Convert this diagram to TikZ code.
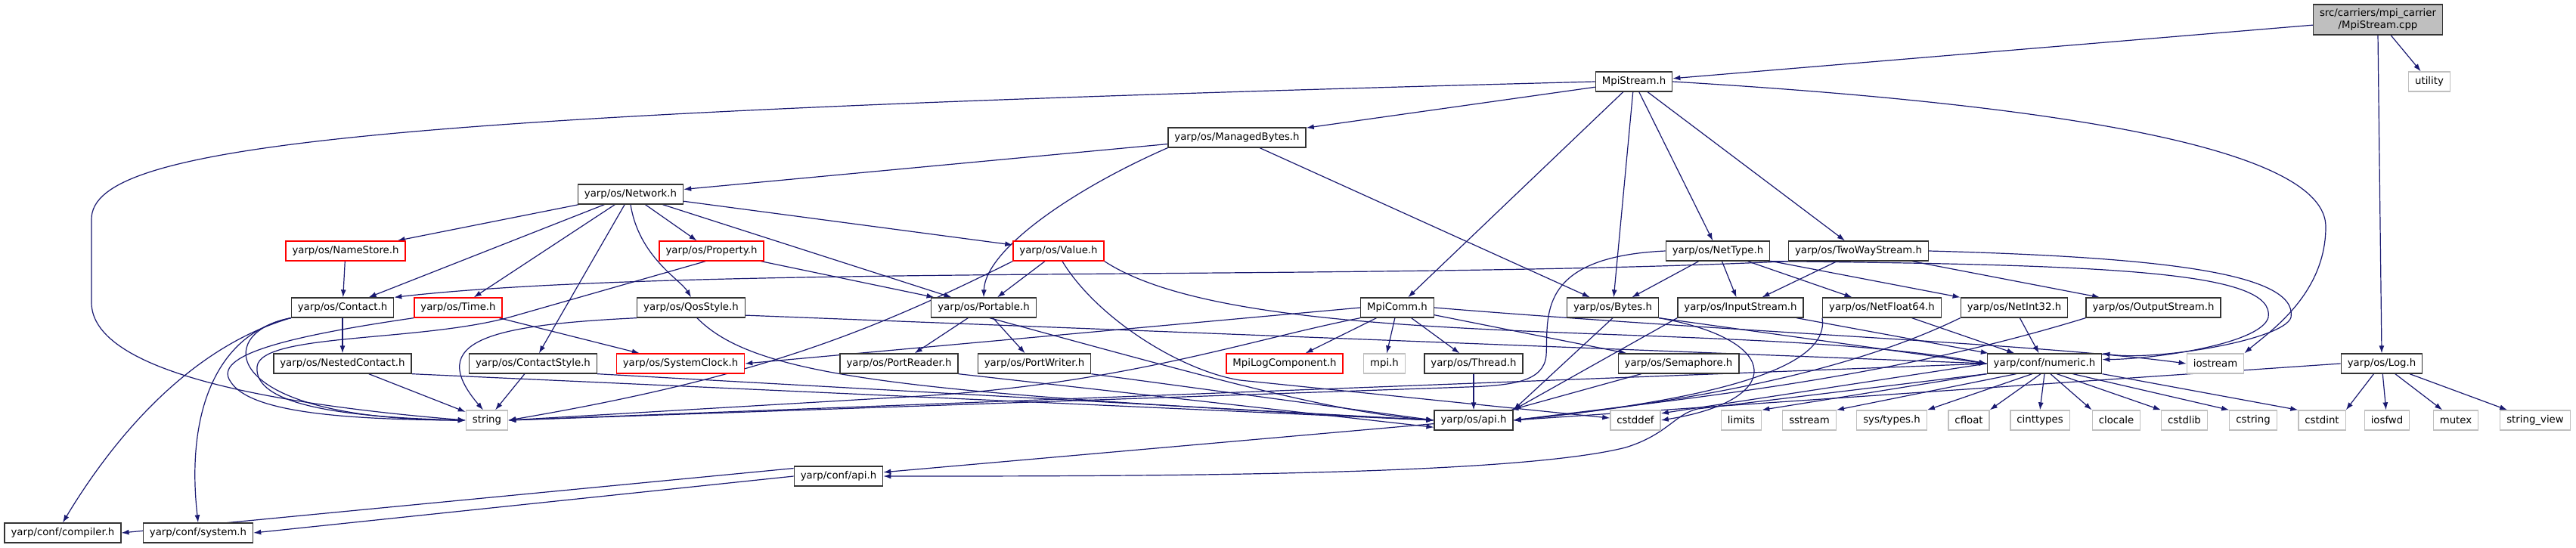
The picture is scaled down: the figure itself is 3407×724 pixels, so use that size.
\documentclass[tikz,border=0pt]{standalone}
\usepackage{fontspec}
\setmainfont{DejaVu Sans}
\usetikzlibrary{arrows.meta,backgrounds}

\definecolor{edgeblue}{RGB}{25,25,112}
\definecolor{boxgray}{RGB}{191,191,191}

\tikzset{
  hdr/.style={draw=black!80, fill=white, line width=1.3pt, minimum height=26pt,
    inner xsep=8.5pt, inner ysep=0pt, font=\fontsize{13.3pt}{16pt}\selectfont},
  redhdr/.style={hdr, draw=red},
  syshdr/.style={hdr, draw=boxgray},
  roothdr/.style={hdr, fill=boxgray, align=center, minimum height=40pt},
  dep/.style={->, edgeblue, line width=1.2pt},
}

\begin{document}
\begin{tikzpicture}[x=1pt, y=-1pt, >={Latex[length=10pt,width=7pt]}]

    \useasboundingbox (0,0) rectangle (3407,724);

    % 1. Files of the graph, row by row
    \node[roothdr] (cpp) at (3145,26) {src/carriers/mpi\_carrier\\/MpiStream.cpp};

    \node[hdr] (mpistream) at (2161,108) {MpiStream.h};
    \node[syshdr] (utility) at (3213,108) {utility};

    \node[hdr] (managedbytes) at (1636,182) {yarp/os/ManagedBytes.h};

    \node[hdr] (network) at (834,257) {yarp/os/Network.h};

    \node[redhdr] (namestore) at (457,332) {yarp/os/NameStore.h};
    \node[redhdr] (property) at (941,332) {yarp/os/Property.h};
    \node[redhdr] (value) at (1400,332) {yarp/os/Value.h};
    \node[hdr] (nettype) at (2272,332) {yarp/os/NetType.h};
    \node[hdr] (twoway) at (2458,332) {yarp/os/TwoWayStream.h};

    \node[hdr] (contact) at (453,407) {yarp/os/Contact.h};
    \node[redhdr] (time) at (606,407) {yarp/os/Time.h};
    \node[hdr] (qosstyle) at (914,407) {yarp/os/QosStyle.h};
    \node[hdr] (portable) at (1301,407) {yarp/os/Portable.h};
    \node[hdr] (mpicomm) at (1848,407) {MpiComm.h};
    \node[hdr] (bytes) at (2133,407) {yarp/os/Bytes.h};
    \node[hdr] (inputstream) at (2302,407) {yarp/os/InputStream.h};
    \node[hdr] (netfloat) at (2489,407) {yarp/os/NetFloat64.h};
    \node[hdr] (netint) at (2664,407) {yarp/os/NetInt32.h};
    \node[hdr] (outputstream) at (2848,407) {yarp/os/OutputStream.h};

    \node[hdr] (nested) at (453,481) {yarp/os/NestedContact.h};
    \node[hdr] (contactstyle) at (705,481) {yarp/os/ContactStyle.h};
    \node[redhdr] (systemclock) at (900,481) {yarp/os/SystemClock.h};
    \node[hdr] (portreader) at (1189,481) {yarp/os/PortReader.h};
    \node[hdr] (portwriter) at (1368,481) {yarp/os/PortWriter.h};
    \node[redhdr] (mpilog) at (1699,481) {MpiLogComponent.h};
    \node[syshdr] (mpih) at (1831,481) {mpi.h};
    \node[hdr] (thread) at (1949,481) {yarp/os/Thread.h};
    \node[hdr] (semaphore) at (2220,481) {yarp/os/Semaphore.h};
    \node[hdr] (numeric) at (2704,481) {yarp/conf/numeric.h};
    \node[syshdr] (iostream) at (2930,481) {iostream};
    \node[hdr] (log) at (3150,481) {yarp/os/Log.h};

    \node[syshdr] (string) at (644,556) {string};
    \node[hdr] (osapi) at (1949,556) {yarp/os/api.h};
    \node[syshdr] (cstddef) at (2163,556) {cstddef};
    \node[syshdr] (limits) at (2303,556) {limits};
    \node[syshdr] (sstream) at (2393,556) {sstream};
    \node[syshdr] (systypes) at (2502,556) {sys/types.h};
    \node[syshdr] (cfloat) at (2604,556) {cfloat};
    \node[syshdr] (cinttypes) at (2698,556) {cinttypes};
    \node[syshdr] (clocale) at (2799,556) {clocale};
    \node[syshdr] (cstdlib) at (2889,556) {cstdlib};
    \node[syshdr] (cstring) at (2980,556) {cstring};
    \node[syshdr] (cstdint) at (3071,556) {cstdint};
    \node[syshdr] (iosfwd) at (3157,556) {iosfwd};
    \node[syshdr] (mutex) at (3248,556) {mutex};
    \node[syshdr] (stringview) at (3353,556) {string\_view};

    \node[hdr] (confapi) at (1109,630) {yarp/conf/api.h};

    \node[hdr] (compiler) at (83,705) {yarp/conf/compiler.h};
    \node[hdr] (system) at (262,705) {yarp/conf/system.h};

    \begin{scope}[on background layer]
    % 2. MpiStream.cpp
    \draw[dep] (cpp) -- (mpistream);
    \draw[dep] (cpp) -- (utility);
    \draw[dep] (cpp.south) -- (log.north);

    % 3. MpiStream.h
    \draw[dep] (mpistream.west) .. controls (500,150) and (121,190) .. (121,290)
        -- (121,400) .. controls (121,480) and (300,530) .. (string.west);
    \draw[dep] (mpistream) -- (managedbytes);
    \draw[dep] (mpistream) -- (mpicomm);
    \draw[dep] (mpistream) -- (bytes);
    \draw[dep] (mpistream) -- (nettype);
    \draw[dep] (mpistream) -- (twoway);
    \draw[dep] (mpistream.east) .. controls (2750,140) and (3076,200) .. (3076,300)
        .. controls (3076,390) and (3000,440) .. (iostream.north east);

    % 4. ManagedBytes.h
    \draw[dep] (managedbytes) -- (network);
    \draw[dep] (managedbytes.south west) .. controls (1420,250) and (1303,330) .. (portable.north);
    \draw[dep] (managedbytes) -- (bytes);

    % 5. Network.h
    \draw[dep] (network) -- (namestore);
    \draw[dep] (network) -- (contact);
    \draw[dep] (network) -- (time);
    \draw[dep] (network) -- (contactstyle);
    \draw[dep] (network.south) .. controls (845,340) and (900,370) .. (qosstyle.north);
    \draw[dep] (network) -- (property);
    \draw[dep] (network) -- (portable);
    \draw[dep] (network) -- (value);

    % 6. NameStore.h, Property.h, Value.h
    \draw[dep] (namestore) -- (contact);
    \draw[dep] (property) -- (portable);
    \draw[dep] (property.-120) -- (680,418) .. controls (560,453) and (345,440) .. (340,485)
        .. controls (335,535) and (450,552) .. (string.west);
    \draw[dep] (value) -- (portable);
    \draw[dep] (value.south west) .. controls (1150,440) and (1000,500) .. (string.east);
    \draw[dep] (value.-70) .. controls (1450,420) and (1560,490) .. (1640,503) -- (cstddef.175);
    \draw[dep] (value.south east) .. controls (1650,470) and (2300,420) .. (numeric.west);

    % 7. Contact.h, Time.h, QosStyle.h
    \draw[dep] (contact) -- (nested);
    \draw[dep] (contact.south west) .. controls (280,440) and (290,555) .. (string.west);
    \draw[dep] (contact.south west) .. controls (250,460) and (150,580) .. (compiler.north);
    \draw[dep] (contact.south west) .. controls (290,440) and (245,540) .. (system.north);
    \draw[dep] (time) -- (systemclock);
    \draw[dep] (time.south west) .. controls (380,445) and (280,470) .. (305,505)
        .. controls (330,545) and (450,555) .. (string.west);
    \draw[dep] (qosstyle.south west) .. controls (650,430) and (560,450) .. (string.110);
    \draw[dep] (qosstyle.-60) .. controls (1000,500) and (1200,520) .. (osapi.west);
    \draw[dep] (qosstyle.-8) -- (numeric.west);

    % 8. NestedContact.h, ContactStyle.h
    \draw[dep] (nested) -- (string);
    \draw[dep] (nested.south east) -- (osapi.west);
    \draw[dep] (contactstyle) -- (string);
    \draw[dep] (contactstyle.south east) -- (osapi.west);

    % 9. Portable.h and its readers/writers
    \draw[dep] (portable) -- (portreader);
    \draw[dep] (portable) -- (portwriter);
    \draw[dep] (portable.-60) .. controls (1600,500) and (1760,545) .. (osapi.west);
    \draw[dep] (portreader.south east) -- (osapi.-170);
    \draw[dep] (portwriter.south east) -- (osapi.west);

    % 10. MpiComm.h
    \draw[dep] (mpicomm) -- (mpilog);
    \draw[dep] (mpicomm) -- (mpih);
    \draw[dep] (mpicomm) -- (thread);
    \draw[dep] (mpicomm) -- (semaphore);
    \draw[dep] (mpicomm.west) -- (systemclock.east);
    \draw[dep] (mpicomm.south west) .. controls (1650,450) and (1480,510) .. (1200,525) -- (string.east);
    \draw[dep] (mpicomm.east) .. controls (2300,440) and (2700,455) .. (iostream.west);

    % 11. Bytes.h, NetType.h, TwoWayStream.h
    \draw[dep] (bytes.south) -- (osapi.north east);
    \draw[dep] (bytes.south east) .. controls (2360,450) and (2360,530) .. (cstddef.east);
    \draw[dep] (bytes.south east) -- (numeric.west);
    \draw[dep] (nettype) -- (bytes);
    \draw[dep] (nettype) -- (inputstream);
    \draw[dep] (nettype) -- (netfloat);
    \draw[dep] (nettype) -- (netint);
    \draw[dep] (nettype.west) .. controls (2030,340) and (2048,420) .. (2045,470)
        .. controls (2042,505) and (2000,510) .. (1940,512) -- (string.east);
    \draw[dep] (nettype.south east) .. controls (2800,350) and (3010,360) .. (3000,420)
        .. controls (2990,455) and (2850,475) .. (numeric.4);
    \draw[dep] (twoway) -- (inputstream);
    \draw[dep] (twoway) -- (outputstream);
    \draw[dep] (twoway.south west) .. controls (1800,372) and (900,350) .. (contact.north east);
    \draw[dep] (twoway.east) .. controls (2850,340) and (3040,360) .. (3030,420)
        .. controls (3020,450) and (2850,478) .. (numeric.10);

    % 12. streams and network numbers
    \draw[dep] (inputstream.south west) -- (osapi.north east);
    \draw[dep] (inputstream) -- (numeric);
    \draw[dep] (netfloat) -- (numeric);
    \draw[dep] (netint) -- (numeric);
    \draw[dep] (netfloat.south west) .. controls (2420,480) and (2300,525) .. (osapi.east);
    \draw[dep] (netint.south west) .. controls (2450,490) and (2250,530) .. (osapi.east);
    \draw[dep] (outputstream.south west) .. controls (2500,500) and (2250,525) .. (osapi.east);
    \draw[dep] (thread) -- (osapi);
    \draw[dep] (semaphore) -- (osapi);

    % 13. yarp/conf/numeric.h
    \draw[dep] (numeric.west) -- (string.east);
    \draw[dep] (numeric.west) -- (cstddef.15);
    \draw[dep] (numeric.south west) -- (limits.north east);
    \draw[dep] (numeric.-160) -- (sstream.north east);
    \draw[dep] (numeric.-140) -- (systypes.north east);
    \draw[dep] (numeric.-110) -- (cfloat.north east);
    \draw[dep] (numeric.south) -- (cinttypes.north);
    \draw[dep] (numeric.-60) -- (clocale.north west);
    \draw[dep] (numeric.-40) -- (cstdlib.north west);
    \draw[dep] (numeric.-20) -- (cstring.north west);
    \draw[dep] (numeric.south east) -- (cstdint.north west);
    \draw[dep] (numeric.south west) -- (2245,541) .. controls (2215,548) and (2205,575) .. (2150,592)
        .. controls (2000,630) and (1500,630) .. (confapi.east);

    % 14. yarp/os/Log.h
    \draw[dep] (log) -- (cstdint.north east);
    \draw[dep] (log) -- (iosfwd);
    \draw[dep] (log) -- (mutex);
    \draw[dep] (log) -- (stringview);
    \draw[dep] (log.west) -- (osapi.east);

    % 15. api headers
    \draw[dep] (osapi) -- (confapi);
    \draw[dep] (confapi.170) -- (compiler.east);
    \draw[dep] (confapi.west) -- (system.east);
    \end{scope}

\end{tikzpicture}
\end{document}
